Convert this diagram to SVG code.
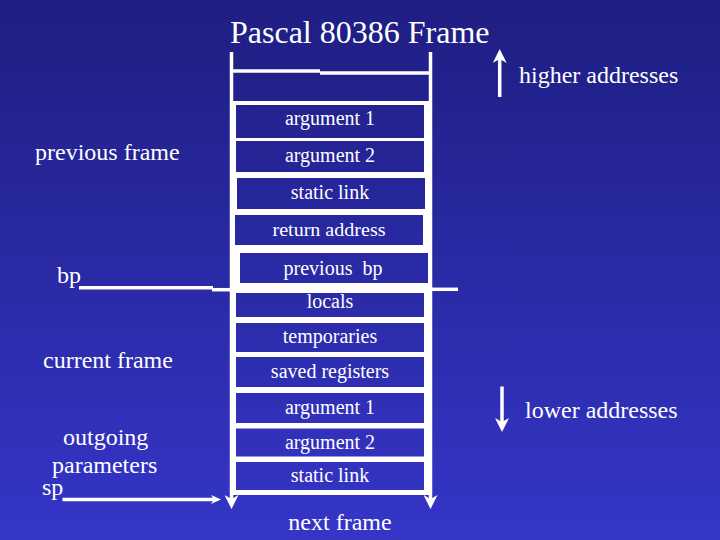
<svg xmlns="http://www.w3.org/2000/svg" width="720" height="540" viewBox="0 0 720 540">
  <defs>
    <linearGradient id="bg" gradientUnits="userSpaceOnUse" x1="0" y1="0" x2="0" y2="540">
      <stop offset="0" stop-color="#1e1e82"/>
      <stop offset="1" stop-color="#3535c8"/>
    </linearGradient>
    <marker id="head" markerUnits="userSpaceOnUse" markerWidth="14" markerHeight="14" viewBox="0 0 14 14" refX="5" refY="7" orient="auto">
      <path d="M0,0 L14,7 L0,14 L4,7 z" fill="#fff"/>
    </marker>
    <marker id="headsm" markerUnits="userSpaceOnUse" markerWidth="10" markerHeight="9" viewBox="0 0 10 9" refX="4" refY="4.5" orient="auto">
      <path d="M0,0 L10,4.5 L0,9 L3,4.5 z" fill="#fff"/>
    </marker>
    <style>
      text { font-family: "Liberation Serif", "Times New Roman", serif; fill: #fff; }
      .t { font-size: 24px; }
      .b { font-size: 20px; text-anchor: middle; }
      .slot { fill: url(#bg); }
      .ln { stroke: #fff; stroke-width: 3.5; fill: none; }
    </style>
  </defs>

  <rect x="0" y="0" width="720" height="540" fill="url(#bg)"/>

  <text x="230" y="43" style="font-size:32px">Pascal 80386 Frame</text>

  <g id="connectors">
    <!-- stack column -->
    <rect x="232" y="101" width="197" height="394" fill="#fff"/>
    <line class="ln" x1="231.5" y1="52" x2="231.5" y2="500" marker-end="url(#head)"/>
    <line class="ln" x1="430.5" y1="52" x2="430.5" y2="500" marker-end="url(#head)"/>
    <line class="ln" x1="232" y1="71" x2="320" y2="71"/>
    <line class="ln" x1="320" y1="73" x2="430" y2="73"/>
    <!-- bp pointer -->
    <line class="ln" x1="79" y1="287.7" x2="213" y2="287.7"/>
    <line class="ln" x1="212" y1="289.7" x2="233" y2="289.7"/>
    <line class="ln" x1="430" y1="289.3" x2="458" y2="289.3"/>
    <!-- sp pointer -->
    <line class="ln" x1="62.5" y1="499.5" x2="215" y2="499.5" marker-end="url(#headsm)"/>
    <!-- address direction arrows -->
    <line class="ln" x1="499.7" y1="97" x2="499.7" y2="58" marker-end="url(#head)"/>
    <line class="ln" x1="502" y1="386.5" x2="502" y2="423" marker-end="url(#head)"/>
  </g>

  <g id="prev-arg1"><rect class="slot" x="236" y="105" width="188" height="33"/><text class="b" x="330" y="125">argument 1</text></g>
  <g id="prev-arg2"><rect class="slot" x="236" y="141" width="188" height="31"/><text class="b" x="330" y="161.5">argument 2</text></g>
  <g id="prev-static-link"><rect class="slot" x="237" y="178" width="188" height="31"/><text class="b" x="330" y="199">static link</text></g>
  <g id="return-address"><rect class="slot" x="235" y="215" width="188" height="30"/><text class="b" x="329" y="235.5" style="font-size:19px" textLength="113" lengthAdjust="spacingAndGlyphs">return address</text></g>
  <g id="previous-bp"><rect class="slot" x="240" y="253" width="188" height="30"/><text class="b" x="333" y="275" xml:space="preserve">previous  bp</text></g>
  <g id="locals"><rect class="slot" x="236" y="293" width="188" height="24"/><text class="b" x="330" y="308">locals</text></g>
  <g id="temporaries"><rect class="slot" x="236" y="323" width="188" height="29"/><text class="b" x="330" y="343">temporaries</text></g>
  <g id="saved-registers"><rect class="slot" x="236" y="357" width="188" height="30"/><text class="b" x="330" y="378">saved registers</text></g>
  <g id="out-arg1"><rect class="slot" x="236" y="393" width="188" height="30"/><text class="b" x="330" y="414">argument 1</text></g>
  <g id="out-arg2"><rect class="slot" x="236" y="428.5" width="188" height="28"/><text class="b" x="330" y="449">argument 2</text></g>
  <g id="out-static-link"><rect class="slot" x="236" y="462" width="188" height="28"/><text class="b" x="330" y="481.5">static link</text></g>

  <g id="labels">
    <text class="t" x="35" y="160">previous frame</text>
    <text class="t" x="57" y="283">bp</text>
    <text class="t" x="43" y="368">current frame</text>
    <text class="t" x="63" y="445">outgoing</text>
    <text class="t" x="52" y="473">parameters</text>
    <text class="t" x="42" y="495">sp</text>
    <text class="t" x="340" y="530" text-anchor="middle">next frame</text>
    <text class="t" x="519" y="83">higher addresses</text>
    <text class="t" x="525" y="418">lower addresses</text>
  </g>
</svg>
